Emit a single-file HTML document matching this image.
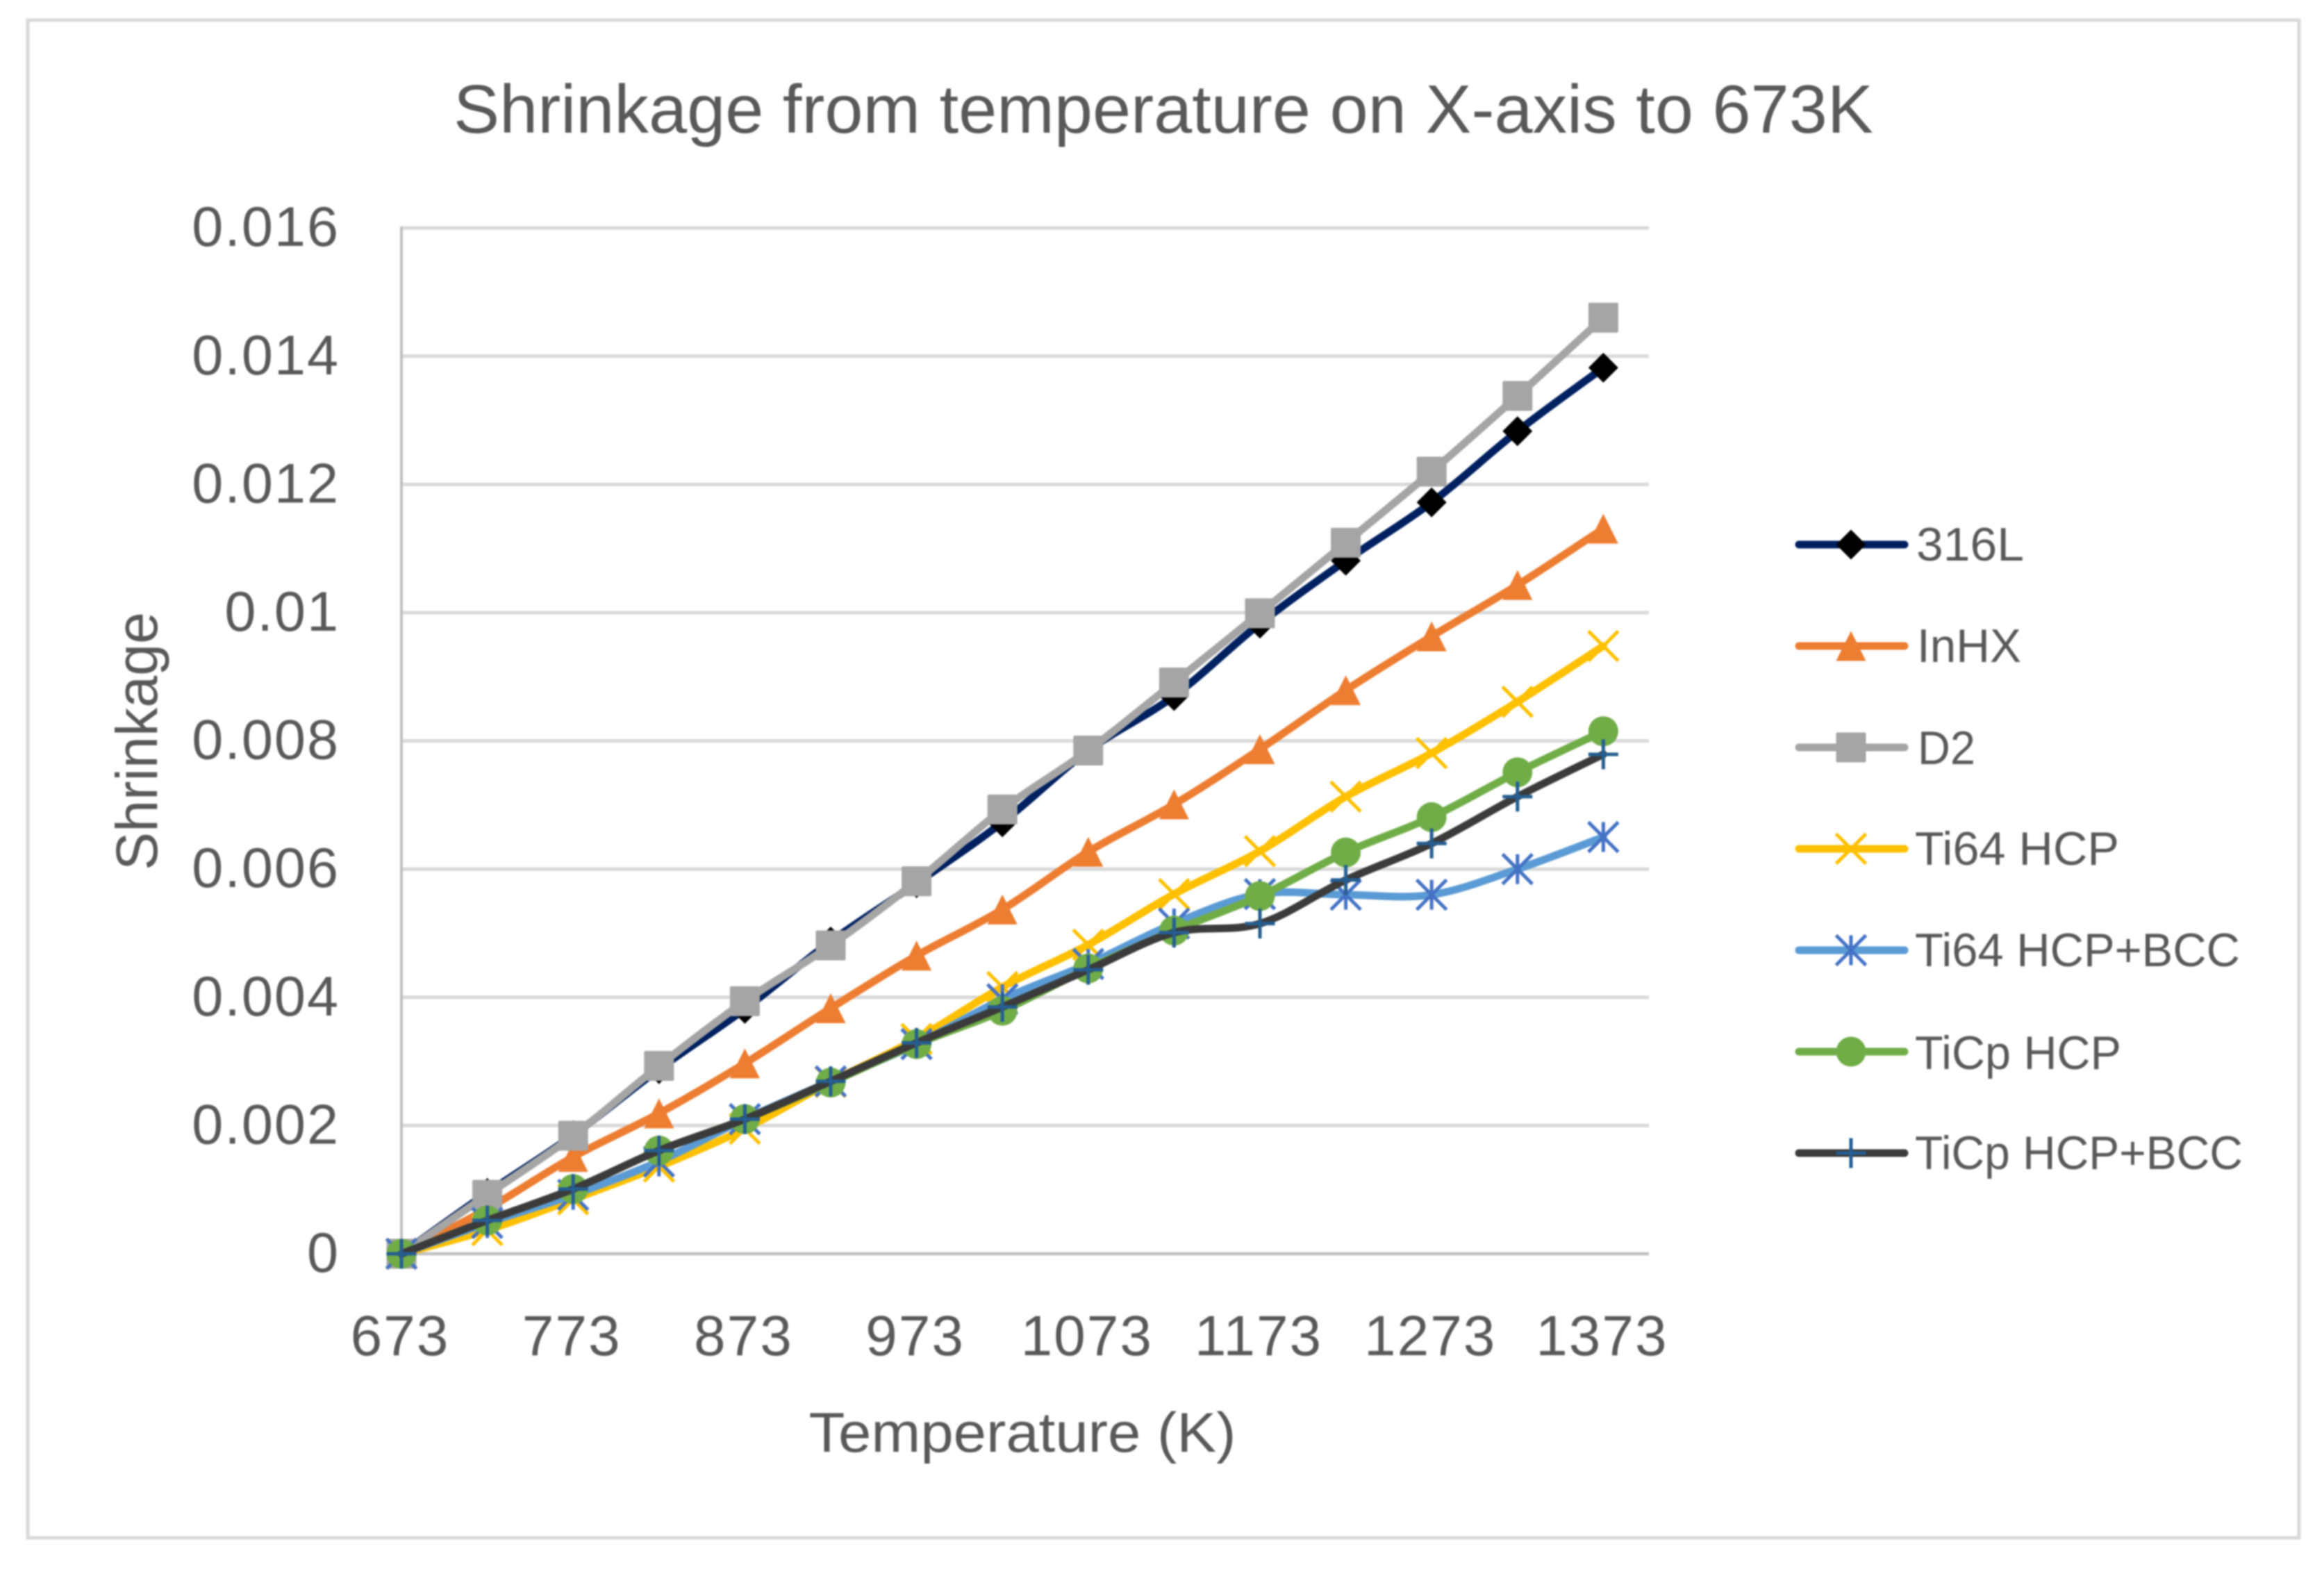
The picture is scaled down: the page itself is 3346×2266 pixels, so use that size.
<!DOCTYPE html>
<html lang="en">
<head>
<meta charset="utf-8">
<title>Shrinkage from temperature on X-axis to 673K</title>
<style>
  html, body { margin: 0; padding: 0; background: #fff; }
  svg { display: block; filter: blur(1px); }
  text { font-family: "Liberation Sans", sans-serif; fill: #595959; }
</style>
</head>
<body>
<svg id="chart" xmlns="http://www.w3.org/2000/svg" width="3346" height="2266" viewBox="0 0 3346 2266">
  <rect x="0" y="0" width="3346" height="2266" fill="#ffffff"/>
  <rect x="40" y="29" width="3270" height="2185" fill="#ffffff" stroke="#d9d9d9" stroke-width="5"/>
  <text x="1675" y="191" font-size="98" text-anchor="middle" textLength="2044" lengthAdjust="spacingAndGlyphs">Shrinkage from temperature on X-axis to 673K</text>
  <text x="1472" y="2090" font-size="81" text-anchor="middle" textLength="615" lengthAdjust="spacingAndGlyphs">Temperature (K)</text>
  <text transform="translate(226 1067) rotate(-90)" font-size="84" text-anchor="middle" textLength="372" lengthAdjust="spacingAndGlyphs">Shrinkage</text>
  <g id="grid"></g>
  <g id="axes"></g>
  <g id="series"></g>
  <g id="legend"></g>
  <g id="legend-labels" font-size="68">
    <text x="2759" y="807" textLength="155" lengthAdjust="spacingAndGlyphs">316L</text>
    <text x="2760" y="953" textLength="150" lengthAdjust="spacingAndGlyphs">InHX</text>
    <text x="2761" y="1100" textLength="83" lengthAdjust="spacingAndGlyphs">D2</text>
    <text x="2757" y="1245" textLength="294" lengthAdjust="spacingAndGlyphs">Ti64 HCP</text>
    <text x="2757" y="1391" textLength="468" lengthAdjust="spacingAndGlyphs">Ti64 HCP+BCC</text>
    <text x="2757" y="1539" textLength="297" lengthAdjust="spacingAndGlyphs">TiCp HCP</text>
    <text x="2757" y="1683" textLength="472" lengthAdjust="spacingAndGlyphs">TiCp HCP+BCC</text>
  </g>
</svg>
<script>
const temperatures = [673, 723, 773, 823, 873, 923, 973, 1023, 1073, 1123, 1173, 1223, 1273, 1323, 1373];
const xTickLabels = [673, 773, 873, 973, 1073, 1173, 1273, 1373];
const yTickLabels = ['0', '0.002', '0.004', '0.006', '0.008', '0.01', '0.012', '0.014', '0.016'];
const seriesNames = ['316L', 'InHX', 'D2', 'Ti64 HCP', 'Ti64 HCP+BCC', 'TiCp HCP', 'TiCp HCP+BCC'];
const values316L = [0, 0.00095, 0.00185, 0.00288, 0.00382, 0.00487, 0.00578, 0.00673, 0.00785, 0.0087, 0.00983, 0.01081, 0.01172, 0.01283, 0.01382];
const valuesInHX = [0, 0.0007, 0.00151, 0.00219, 0.00297, 0.00383, 0.00465, 0.00537, 0.00627, 0.00701, 0.00787, 0.00879, 0.00963, 0.01043, 0.01131];
const valuesD2 = [0, 0.00092, 0.00184, 0.00293, 0.00394, 0.00481, 0.00581, 0.00693, 0.00785, 0.00891, 0.00999, 0.01109, 0.0122, 0.01338, 0.0146];
const valuesTi64Hcp = [0, 0.00037, 0.00085, 0.00136, 0.00195, 0.00268, 0.00335, 0.00416, 0.00482, 0.00561, 0.00628, 0.00713, 0.00781, 0.00861, 0.00948];
const valuesTi64HcpBcc = [0, 0.00048, 0.00092, 0.00144, 0.0021, 0.00269, 0.00327, 0.00397, 0.00452, 0.00515, 0.00561, 0.0056, 0.0056, 0.006, 0.0065];
const valuesTiCpHcp = [0, 0.00052, 0.00101, 0.00161, 0.0021, 0.00267, 0.00327, 0.00379, 0.00445, 0.00504, 0.00558, 0.00626, 0.00681, 0.00751, 0.00815];
const valuesTiCpHcpBcc = [0, 0.00052, 0.00101, 0.00161, 0.0021, 0.00269, 0.00329, 0.00385, 0.00443, 0.00501, 0.00515, 0.00583, 0.0064, 0.00713, 0.00779];
const seriesValues = [values316L, valuesInHX, valuesD2, valuesTi64Hcp, valuesTi64HcpBcc, valuesTiCpHcp, valuesTiCpHcpBcc];

const lineColors = ['#002060', '#ED7D31', '#A5A5A5', '#FFC000', '#5B9BD5', '#70AD47', '#3B3B3B'];
const markerColors = ['#000000', '#ED7D31', '#A5A5A5', '#FFC000', '#4472C4', '#70AD47', '#255E91'];
const markerKinds = ['diamond', 'triangle', 'square', 'x', 'star', 'circle', 'plus'];

const NS = 'http://www.w3.org/2000/svg';
const PLOT_LEFT = 578, PLOT_RIGHT = 2374, PLOT_BOTTOM = 1805;
const xScale = v => PLOT_LEFT + (v - 673) * 2.472;
const yScale = v => PLOT_BOTTOM - v * 92300;
const slug = s => s.toLowerCase().replace(/[^a-z0-9]+/g, '-');

function make(tag, attrs, parent) {
  const el = document.createElementNS(NS, tag);
  for (const k in attrs) el.setAttribute(k, attrs[k]);
  parent.appendChild(el);
  return el;
}

function drawMarker(kind, cx, cy, color, parent) {
  const r = 21.5;
  let el;
  if (kind === 'diamond') {
    el = make('polygon', {points: `${cx},${cy-r} ${cx+r},${cy} ${cx},${cy+r} ${cx-r},${cy}`, fill: color}, parent);
  } else if (kind === 'triangle') {
    el = make('polygon', {points: `${cx},${cy-r} ${cx+r},${cy+r} ${cx-r},${cy+r}`, fill: color}, parent);
  } else if (kind === 'square') {
    el = make('rect', {x: cx-r, y: cy-r, width: 2*r, height: 2*r, rx: 2, fill: color}, parent);
  } else if (kind === 'circle') {
    el = make('circle', {cx: cx, cy: cy, r: r, fill: color}, parent);
  } else {
    let d = '';
    if (kind === 'x' || kind === 'star') d += `M${cx-r} ${cy-r}L${cx+r} ${cy+r}M${cx-r} ${cy+r}L${cx+r} ${cy-r}`;
    if (kind === 'star') d += `M${cx} ${cy-r}L${cx} ${cy+r}`;
    if (kind === 'plus') d += `M${cx-r} ${cy}L${cx+r} ${cy}M${cx} ${cy-r}L${cx} ${cy+r}`;
    el = make('path', {d: d, fill: 'none', stroke: color, 'stroke-width': 5}, parent);
  }
  return el;
}

function smoothPath(pts) {
  let d = `M${pts[0][0]} ${pts[0][1]}`;
  for (let i = 0; i < pts.length - 1; i++) {
    const p0 = pts[Math.max(i - 1, 0)], p1 = pts[i], p2 = pts[i + 1], p3 = pts[Math.min(i + 2, pts.length - 1)];
    const c1x = p1[0] + (p2[0] - p0[0]) / 6, c1y = p1[1] + (p2[1] - p0[1]) / 6;
    const c2x = p2[0] - (p3[0] - p1[0]) / 6, c2y = p2[1] - (p3[1] - p1[1]) / 6;
    d += `C${c1x.toFixed(2)} ${c1y.toFixed(2)} ${c2x.toFixed(2)} ${c2y.toFixed(2)} ${p2[0].toFixed(2)} ${p2[1].toFixed(2)}`;
  }
  return d;
}

const gridG = document.getElementById('grid');
const axesG = document.getElementById('axes');
const seriesG = document.getElementById('series');
const legendG = document.getElementById('legend');

yTickLabels.forEach(label => {
  const v = parseFloat(label), py = yScale(v);
  if (v > 0) {
    const gl = make('line', {x1: PLOT_LEFT, x2: PLOT_RIGHT, y1: py, y2: py, stroke: '#D9D9D9', 'stroke-width': 5}, gridG);
    
    
  }
  const t = make('text', {x: 489, y: py + 26, 'font-size': 81, 'text-anchor': 'end', 'letter-spacing': 2}, axesG);
  t.textContent = label;
  
  
});

const yAxis = make('line', {x1: PLOT_LEFT, x2: PLOT_LEFT, y1: yScale(0.016) - 2, y2: PLOT_BOTTOM + 2, stroke: '#BFBFBF', 'stroke-width': 4}, axesG);


const xAxis = make('line', {x1: PLOT_LEFT, x2: PLOT_RIGHT, y1: PLOT_BOTTOM, y2: PLOT_BOTTOM, stroke: '#BFBFBF', 'stroke-width': 4.5}, axesG);



xTickLabels.forEach(label => {
  const t = make('text', {x: xScale(label) - 2, y: 1951, 'font-size': 82, 'text-anchor': 'middle', 'letter-spacing': 2}, axesG);
  t.textContent = String(label);
  
  
});

seriesNames.forEach((name, s) => {
  const g = make('g', {}, seriesG);
  
  
  const pts = seriesValues[s].map((v, i) => [xScale(temperatures[i]), yScale(v)]);
  const line = make('path', {d: smoothPath(pts), fill: 'none', stroke: lineColors[s], 'stroke-width': 11, 'stroke-linecap': 'round', 'stroke-linejoin': 'round'}, g);
  
  
  pts.forEach((p, i) => {
    const m = drawMarker(markerKinds[s], p[0], p[1], markerColors[s], g);
    
    
  });
});

seriesNames.forEach((name, s) => {
  const ly = 784 + s * 146;
  const g = make('g', {}, legendG);
  
  
  const sw = make('line', {x1: 2590, x2: 2742, y1: ly, y2: ly, stroke: lineColors[s], 'stroke-width': 11, 'stroke-linecap': 'round'}, g);
  
  
  const mk = drawMarker(markerKinds[s], 2665, ly, markerColors[s], g);
  
  
});
</script>
</body>
</html>
